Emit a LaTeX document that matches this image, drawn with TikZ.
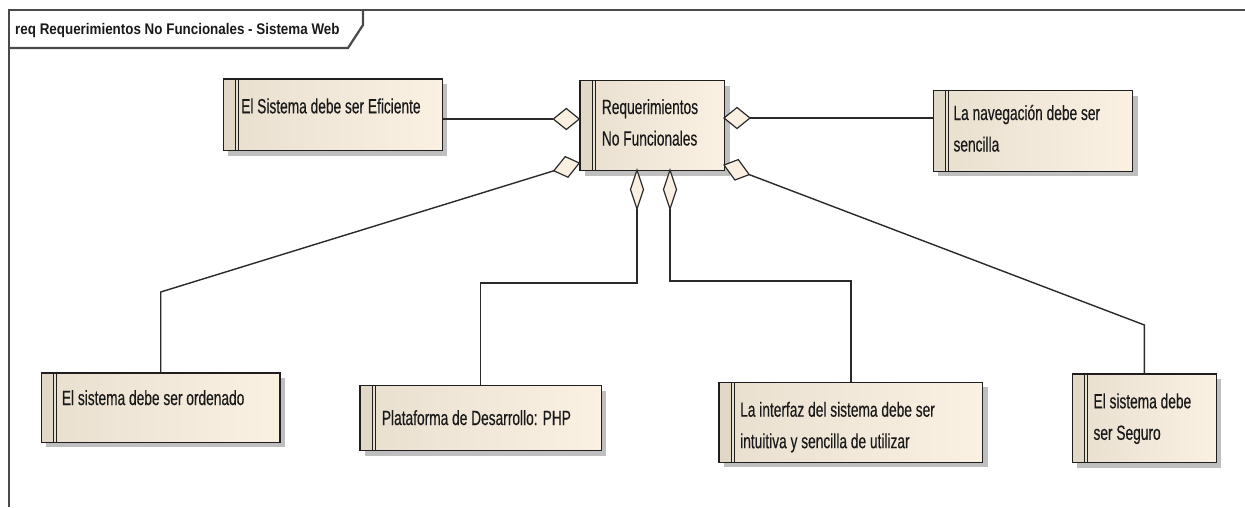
\documentclass[tikz,border=0pt]{standalone}
\usepackage{fontspec}
\newfontfamily\boxfont{Liberation Sans}[FakeStretch=0.67, FakeBold=0.35]
\newfontfamily\titlefont{Liberation Sans}[FakeStretch=0.87]
\usetikzlibrary{shadows}

\definecolor{boxL}{HTML}{E9DFCF}
\definecolor{boxR}{HTML}{FBF1E3}
\definecolor{stripecol}{HTML}{E2D8C7}
\definecolor{boxline}{HTML}{1E1E1E}
\definecolor{framecol}{HTML}{4A4A4A}
\definecolor{linkcol}{HTML}{2A2A2A}
\definecolor{diamfill}{HTML}{FAF0E2}
\definecolor{inkcol}{HTML}{1A1A1A}

\tikzset{
  reqbox/.style={rectangle, draw=boxline, line width=1.4pt, inner sep=0pt,
    anchor=north west, left color=boxL, right color=boxR,
    drop shadow={shadow xshift=5pt, shadow yshift=-5pt, fill=black!25, opacity=1},
    path picture={
      \fill[stripecol] (path picture bounding box.north west) rectangle
        ([xshift=12.5pt]path picture bounding box.south west);
      \draw[boxline, line width=1.1pt]
        ([xshift=12.5pt]path picture bounding box.north west) --
        ([xshift=12.5pt]path picture bounding box.south west);
      \draw[boxline, line width=1.1pt]
        ([xshift=15.3pt]path picture bounding box.north west) --
        ([xshift=15.3pt]path picture bounding box.south west);
    }},
  reqtext/.style={anchor=base west, inner sep=0pt, text=inkcol,
    font=\boxfont\fontsize{20.5}{31.5}\selectfont},
  link/.style={draw=linkcol, line width=1.4pt},
  diam/.style={draw=linkcol, fill=diamfill, line width=1.2pt, line join=miter},
  framepen/.style={draw=framecol, line width=2.2pt}
}

\begin{document}
\begin{tikzpicture}[x=1pt, y=-1pt]
\fill[white] (0,0) rectangle (1245,507);
\useasboundingbox (0,0) rectangle (1245,507);

% diagram frame and its name tab
\draw[framepen] (9,507) -- (9,10) -- (1245,10);
\draw[framepen] (9,48) -- (348,48) -- (363,25) -- (363,10);
\node[anchor=base west, inner sep=0pt, text=inkcol,
  font=\titlefont\bfseries\fontsize{15.4}{18}\selectfont] (title) at (15,34.5)
  {req Requerimientos No Funcionales - Sistema Web};

% requirement boxes
\node[reqbox, minimum width=219pt, minimum height=71.7pt] (eff) at (222.7,78.3) {};
\node[reqbox, minimum width=144.7pt, minimum height=90pt] (req) at (579.3,80) {};
\node[reqbox, minimum width=199.3pt, minimum height=80.7pt] (nav) at (932.7,90) {};
\node[reqbox, minimum width=238.6pt, minimum height=69.4pt] (ord) at (40.7,372.3) {};
\node[reqbox, minimum width=241.4pt, minimum height=65pt] (php) at (359.3,385) {};
\node[reqbox, minimum width=263.7pt, minimum height=80pt] (intf) at (718.3,381.7) {};
\node[reqbox, minimum width=144pt, minimum height=88.7pt] (seg) at (1071.7,373.3) {};

% box texts
\node[reqtext] (effT) at (241,113.3) {El Sistema debe ser Eficiente};
\node[reqtext] (reqT) at (601.7,114)
  {\begin{tabular}[t]{@{}l@{}}Requerimientos\\No Funcionales\end{tabular}};
\node[reqtext] (navT) at (953.3,120)
  {\begin{tabular}[t]{@{}l@{}}La navegación debe ser\\sencilla\end{tabular}};
\node[reqtext] (ordT) at (61.7,405) {El sistema debe ser ordenado};
\node[reqtext] (phpT) at (381.7,425) {Plataforma de Desarrollo: PHP};
\node[reqtext] (intfT) at (740,416.7)
  {\begin{tabular}[t]{@{}l@{}}La interfaz del sistema debe ser\\intuitiva y sencilla de utilizar\end{tabular}};
\node[reqtext] (segT) at (1093.3,408.3)
  {\begin{tabular}[t]{@{}l@{}}El sistema debe\\ser Seguro\end{tabular}};

% aggregation diamonds on the central requirement
\coordinate (tEff)  at (579.3,119);
\coordinate (tNav)  at (724,118);
\coordinate (tOrd)  at (579.3,163);
\coordinate (tPhp)  at (637,170);
\coordinate (tIntf) at (670,170);
\coordinate (tSeg)  at (724,165);

\coordinate (eEff)  at ([shift={(-26,0)}]tEff);
\coordinate (eNav)  at ([shift={(26,0)}]tNav);
\coordinate (eOrd)  at ([shift={(-25.5,7.8)}]tOrd);
\coordinate (ePhp)  at ([shift={(0,39)}]tPhp);
\coordinate (eIntf) at ([shift={(0,39)}]tIntf);
\coordinate (eSeg)  at ([shift={(25.2,9.6)}]tSeg);

% connectors
\draw[link] (eEff) -- (eff.east |- eEff);
\draw[link] (eNav) -- (nav.west |- eNav);
\draw[link] (eOrd) -- (ord.north |- 0,292) -- (ord.north);
\draw[link] (ePhp) -- (tPhp |- 0,283) -| (php.north);
\draw[link] (eIntf) -- (tIntf |- 0,281) -| (intf.north);
\draw[link] (eSeg) -- (seg.north |- 0,325) -- (seg.north);

\filldraw[diam] (tEff) -- ++(-13,-10.5) -- ++(-13,10.5) -- ++(13,10.5) -- cycle;
\filldraw[diam] (tNav) -- ++(13,-10.5) -- ++(13,10.5) -- ++(-13,10.5) -- cycle;
\filldraw[diam] (tOrd) -- ++(-14.1,-6.4) -- ++(-11.4,14.2) -- ++(14.2,6.4) -- cycle;
\filldraw[diam] (tPhp) -- ++(6.5,19.5) -- ++(-6.5,19.5) -- ++(-6.5,-19.5) -- cycle;
\filldraw[diam] (tIntf) -- ++(6.5,19.5) -- ++(-6.5,19.5) -- ++(-6.5,-19.5) -- cycle;
\filldraw[diam] (tSeg) -- ++(14.3,-5.4) -- ++(10.9,15.0) -- ++(-14.3,5.4) -- cycle;
\end{tikzpicture}
\end{document}
